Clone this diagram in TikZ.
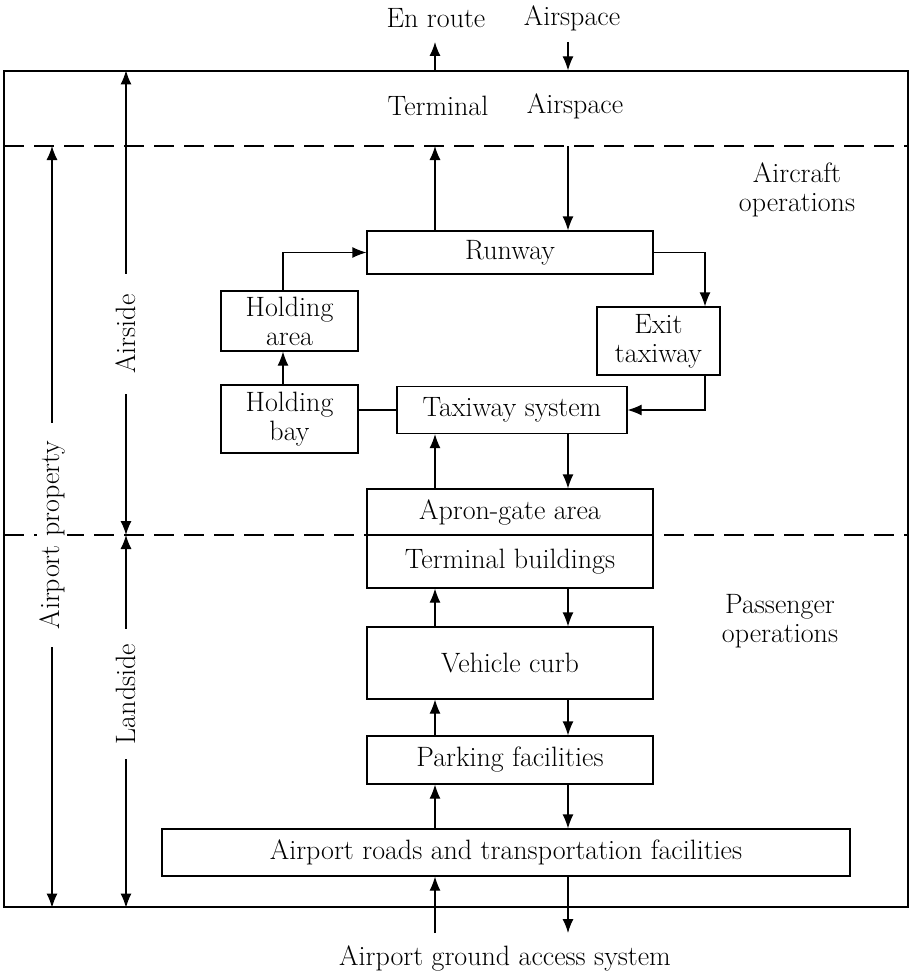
\documentclass[tikz,border=0pt]{standalone}
\usetikzlibrary{arrows.meta}
\begin{document}
\begin{tikzpicture}[x=1pt,y=-1pt,
  every node/.style={font=\fontsize{28}{29}\selectfont, inner sep=0pt},
  box/.style={draw, line width=1.2pt, align=center},
  ln/.style={line width=1.2pt},
  tip/.style={},
  arr/.style={ln, -{Latex[length=14pt,width=11pt]}},
  dbl/.style={ln, {Latex[length=14pt,width=11pt]}-{Latex[length=14pt,width=11pt]}},
  dsh/.style={line width=1.5pt, dash pattern=on 20pt off 10pt},
  lbl/.style={fill=white, rotate=90, inner ysep=2pt}
]
\useasboundingbox (0,0) rectangle (909,974);
% frame and zones
\node[draw, line width=1.2pt, minimum width=904pt, minimum height=836pt] (frame) at (456,489) {};
\coordinate (d1l) at (4,146); \coordinate (d1r) at (908,146);
\coordinate (d2l) at (4,535); \coordinate (d2r) at (908,535);
\draw[dsh] (d1l) -- (d1r);
\draw[dsh] (d2l) -- (d2r);
% x positions
\coordinate (xa) at (435,0);
\coordinate (xb) at (568,0);
\coordinate (xh) at (283,0);
\coordinate (xe) at (705,0);
\coordinate (xs) at (126,0);
\coordinate (xp) at (52,0);
% texts
\node (enroute) at (436,18) {En route};
\node (airsp) at (572,18) {Airspace};
\node (term) at (438,106) {Terminal};
\node (tairsp) at (575,106) {Airspace};
\node[align=center] (acops) at (797,190) {Aircraft\\operations};
\node[align=center] (paxops) at (780,621) {Passenger\\operations};
\node (ground) at (505,958) {Airport ground access system};
% boxes
\node[box, minimum width=286pt, minimum height=43pt] (runway) at (510,252.5) {Runway};
\node[box, minimum width=137pt, minimum height=60pt] (holdarea) at (289.5,321) {Holding\\area};
\node[box, minimum width=137pt, minimum height=68pt] (holdbay) at (289.5,419) {Holding\\bay};
\node[box, minimum width=230pt, minimum height=47pt] (taxi) at (512,410) {Taxiway system};
\node[box, minimum width=123pt, minimum height=68pt] (exit) at (658.5,341) {Exit\\taxiway};
\node[box, minimum width=286pt, minimum height=46pt] (apron) at (510,512) {Apron-gate area};
\node[box, minimum width=286pt, minimum height=53pt] (terminal) at (510,561.5) {Terminal buildings};
\node[box, minimum width=286pt, minimum height=72pt] (curb) at (510,663) {Vehicle curb};
\node[box, minimum width=286pt, minimum height=48pt] (parking) at (510,760) {Parking facilities};
\node[box, minimum width=688pt, minimum height=47pt] (roads) at (506,852.5) {Airport roads and transportation facilities};
% top arrows
\coordinate (enA) at (435,42);
\coordinate (enB) at (568,42);
\draw[arr] (xa |- frame.north) -- (enA);
\draw[arr] (enB) -- (xb |- frame.north);
\draw[arr] (runway.north -| xa) -- (xa |- d1l);
\draw[arr] (xb |- d1l) -- (runway.north -| xb);
% aircraft flow
\draw[arr] (holdbay.north -| xh) -- (holdarea.south -| xh);
\draw[arr] (holdarea.north -| xh) |- (runway.west);
\draw[arr] (runway.east) -| (exit.north -| xe);
\draw[arr] (exit.south -| xe) |- (taxi.east);
\draw[ln] (holdbay.east |- taxi.west) -- (taxi.west);
\draw[arr] (apron.north -| xa) -- (taxi.south -| xa);
\draw[arr] (taxi.south -| xb) -- (apron.north -| xb);
% passenger flow
\draw[arr] (curb.north -| xa) -- (terminal.south -| xa);
\draw[arr] (terminal.south -| xb) -- (curb.north -| xb);
\draw[arr] (parking.north -| xa) -- (curb.south -| xa);
\draw[arr] (curb.south -| xb) -- (parking.north -| xb);
\draw[arr] (roads.north -| xa) -- (parking.south -| xa);
\draw[arr] (parking.south -| xb) -- (roads.north -| xb);
\coordinate (ga) at (435,933);
\coordinate (gb) at (568,933);
\draw[arr] (ga) -- (roads.south -| xa);
\draw[arr] (roads.south -| xb) -- (gb);
% side dimension arrows
\draw[dbl] (xs |- frame.north) -- (xs |- d2l);
\draw[dbl] (xs |- d2l) -- (xs |- frame.south);
\draw[dbl] (xp |- d1l) -- (xp |- frame.south);
\node[lbl, inner xsep=20pt] (airside) at (126,334) {Airside};
\node[lbl, inner xsep=15pt] (landside) at (126,694) {Landside};
\node[lbl, inner xsep=18pt] (airprop) at (52,535) {Airport property};
\end{tikzpicture}
\end{document}
